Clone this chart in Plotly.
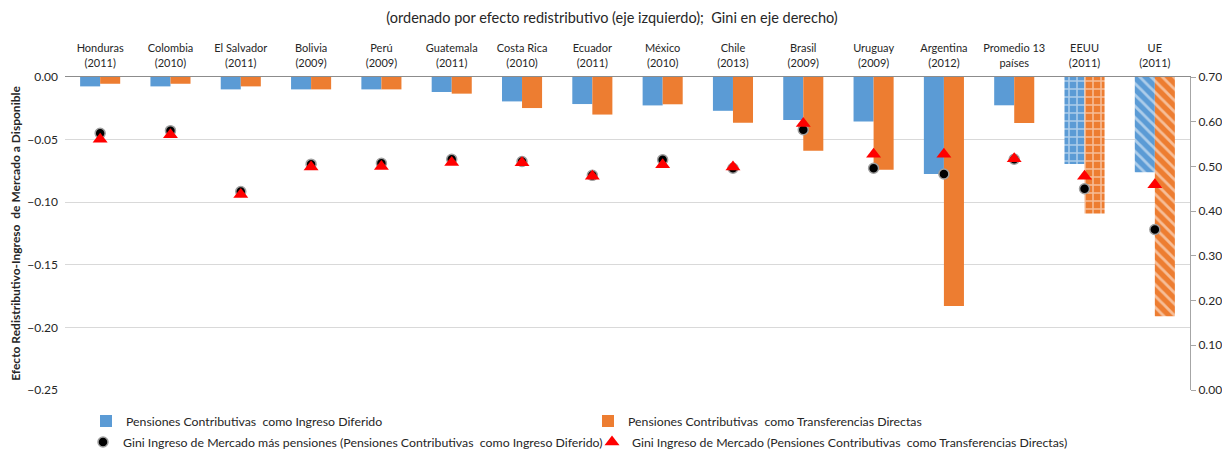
import plotly.graph_objects as go

paises = ["Honduras", "Colombia", "El Salvador", "Bolivia", "Perú", "Guatemala", "Costa Rica",
          "Ecuador", "México", "Chile", "Brasil", "Uruguay", "Argentina", "Promedio 13", "EEUU", "UE"]
anios = ["(2011)", "(2010)", "(2011)", "(2009)", "(2009)", "(2011)", "(2010)",
         "(2011)", "(2010)", "(2013)", "(2009)", "(2009)", "(2012)", "países", "(2011)", "(2011)"]

ingreso_diferido = [-0.0075, -0.0075, -0.0099, -0.0099, -0.0099, -0.0120, -0.0195, -0.0216,
                    -0.0227, -0.0270, -0.0344, -0.0355, -0.0775, -0.0226, -0.0695, -0.0760]
transferencias = [-0.0054, -0.0054, -0.0075, -0.0099, -0.0099, -0.0133, -0.0248, -0.0300,
                  -0.0218, -0.0365, -0.0590, -0.0740, -0.1830, -0.0367, -0.1090, -0.1910]

gini_diferido = [0.574, 0.580, 0.444, 0.505, 0.507, 0.516, 0.511, 0.480,
                 0.515, 0.496, 0.582, 0.496, 0.483, 0.516, 0.450, 0.359]
gini_mercado = [0.561, 0.571, 0.437, 0.499, 0.500, 0.509, 0.508, 0.478,
                0.504, 0.499, 0.596, 0.527, 0.527, 0.517, 0.478, 0.459]

categorias = [f"{p}<br>{a}" for p, a in zip(paises, anios)]

BLUE = "#5b9bd5"
ORANGE = "#ed7d31"
FONT = "Lato"
TXT = "#262626"

patrones = [""] * 14 + ["+", "\\"]

# page body has an 8px margin: the figure is laid out in page pixels minus 8
OFF = 8
W, H = 1230 - OFF, 455 - OFF
# plot area in page pixels: x 65..1190, y 77..390
PX0, PX1, PY0, PY1 = 65, 1190, 77, 390
L, R, T, B = PX0 - OFF, W - (PX1 - OFF), PY0 - OFF, H - (PY1 - OFF)


def lx(px):
    return (px - PX0) / (PX1 - PX0)


def ly(py):
    return (PY1 - py) / (PY1 - PY0)


fig = go.Figure()
fig.add_trace(go.Bar(
    x=categorias, y=ingreso_diferido, name="Pensiones Contributivas  como Ingreso Diferido",
    marker=dict(color=BLUE, line=dict(width=0),
                pattern=dict(shape=patrones, fillmode="overlay", fgcolor="white",
                             size=8, solidity=0.35)),
    legend="legend",
))
fig.add_trace(go.Bar(
    x=categorias, y=transferencias, name="Pensiones Contributivas  como Transferencias Directas",
    marker=dict(color=ORANGE, line=dict(width=0),
                pattern=dict(shape=patrones, fillmode="overlay", fgcolor="white",
                             size=8, solidity=0.35)),
    legend="legend2",
))
fig.add_trace(go.Scatter(
    x=categorias, y=gini_diferido, yaxis="y2", mode="markers",
    name="Gini Ingreso de Mercado más pensiones (Pensiones Contributivas  como Ingreso Diferido)",
    marker=dict(symbol="circle", size=10, color="black", line=dict(color="#a0a0a0", width=1.5)),
    legend="legend3",
))
fig.add_trace(go.Scatter(
    x=categorias, y=gini_mercado, yaxis="y2", mode="markers",
    name="Gini Ingreso de Mercado (Pensiones Contributivas  como Transferencias Directas)",
    marker=dict(symbol="triangle-up", size=13, color="#ff0000", line=dict(width=0)),
    legend="legend4",
))

leg_common = dict(orientation="h", xanchor="left", yanchor="middle",
                  font=dict(family=FONT, size=12.3, color=TXT), bgcolor="rgba(0,0,0,0)",
                  itemwidth=30, borderwidth=0)

fig.update_layout(
    width=W, height=H,
    margin=dict(l=L, r=R, t=T, b=B, autoexpand=False),
    paper_bgcolor="white", plot_bgcolor="white",
    barmode="group", bargap=0.43, bargroupgap=0,
    font=dict(family=FONT, color=TXT),
    showlegend=True,
    title=dict(text="(ordenado por efecto redistributivo (eje izquierdo);  Gini en eje derecho)",
               x=(612 - OFF) / W, xanchor="center", y=1 - (18 - OFF) / H, yanchor="middle",
               xref="container", yref="container",
               font=dict(family=FONT, size=14.5, color=TXT)),
    xaxis=dict(side="top", type="category", range=[-0.5, len(categorias) - 0.5], autorange=False,
               showline=True, linecolor="#8c8c8c", linewidth=1,
               ticks="", ticklabelstandoff=5, tickfont=dict(family=FONT, size=11, color=TXT),
               showgrid=False, anchor="y"),
    yaxis=dict(range=[-0.25, 0], dtick=0.05, tickformat=".2f", showgrid=True, gridcolor="#d9d9d9",
               zeroline=False, showline=False, ticklabelstandoff=6,
               tickfont=dict(family=FONT, size=12, color=TXT),
               title=dict(text="<b>Efecto Redistributivo-Ingreso  de Mercado a Disponible</b>",
                          font=dict(family=FONT, size=12, color=TXT), standoff=4)),
    yaxis2=dict(range=[0, 0.7], dtick=0.1, tickformat=".2f", overlaying="y", side="right",
                showgrid=False, zeroline=False, showline=True, linecolor="#a6a6a6", linewidth=1,
                ticks="outside", ticklen=5, tickcolor="#a6a6a6",
                tickfont=dict(family=FONT, size=12, color=TXT)),
    legend=dict(x=lx(86), y=ly(421), **leg_common),
    legend2=dict(x=lx(588), y=ly(421), **leg_common),
    legend3=dict(x=lx(83), y=ly(442), **leg_common),
    legend4=dict(x=lx(592), y=ly(442), **leg_common),
)

fig.write_html("out.html")
